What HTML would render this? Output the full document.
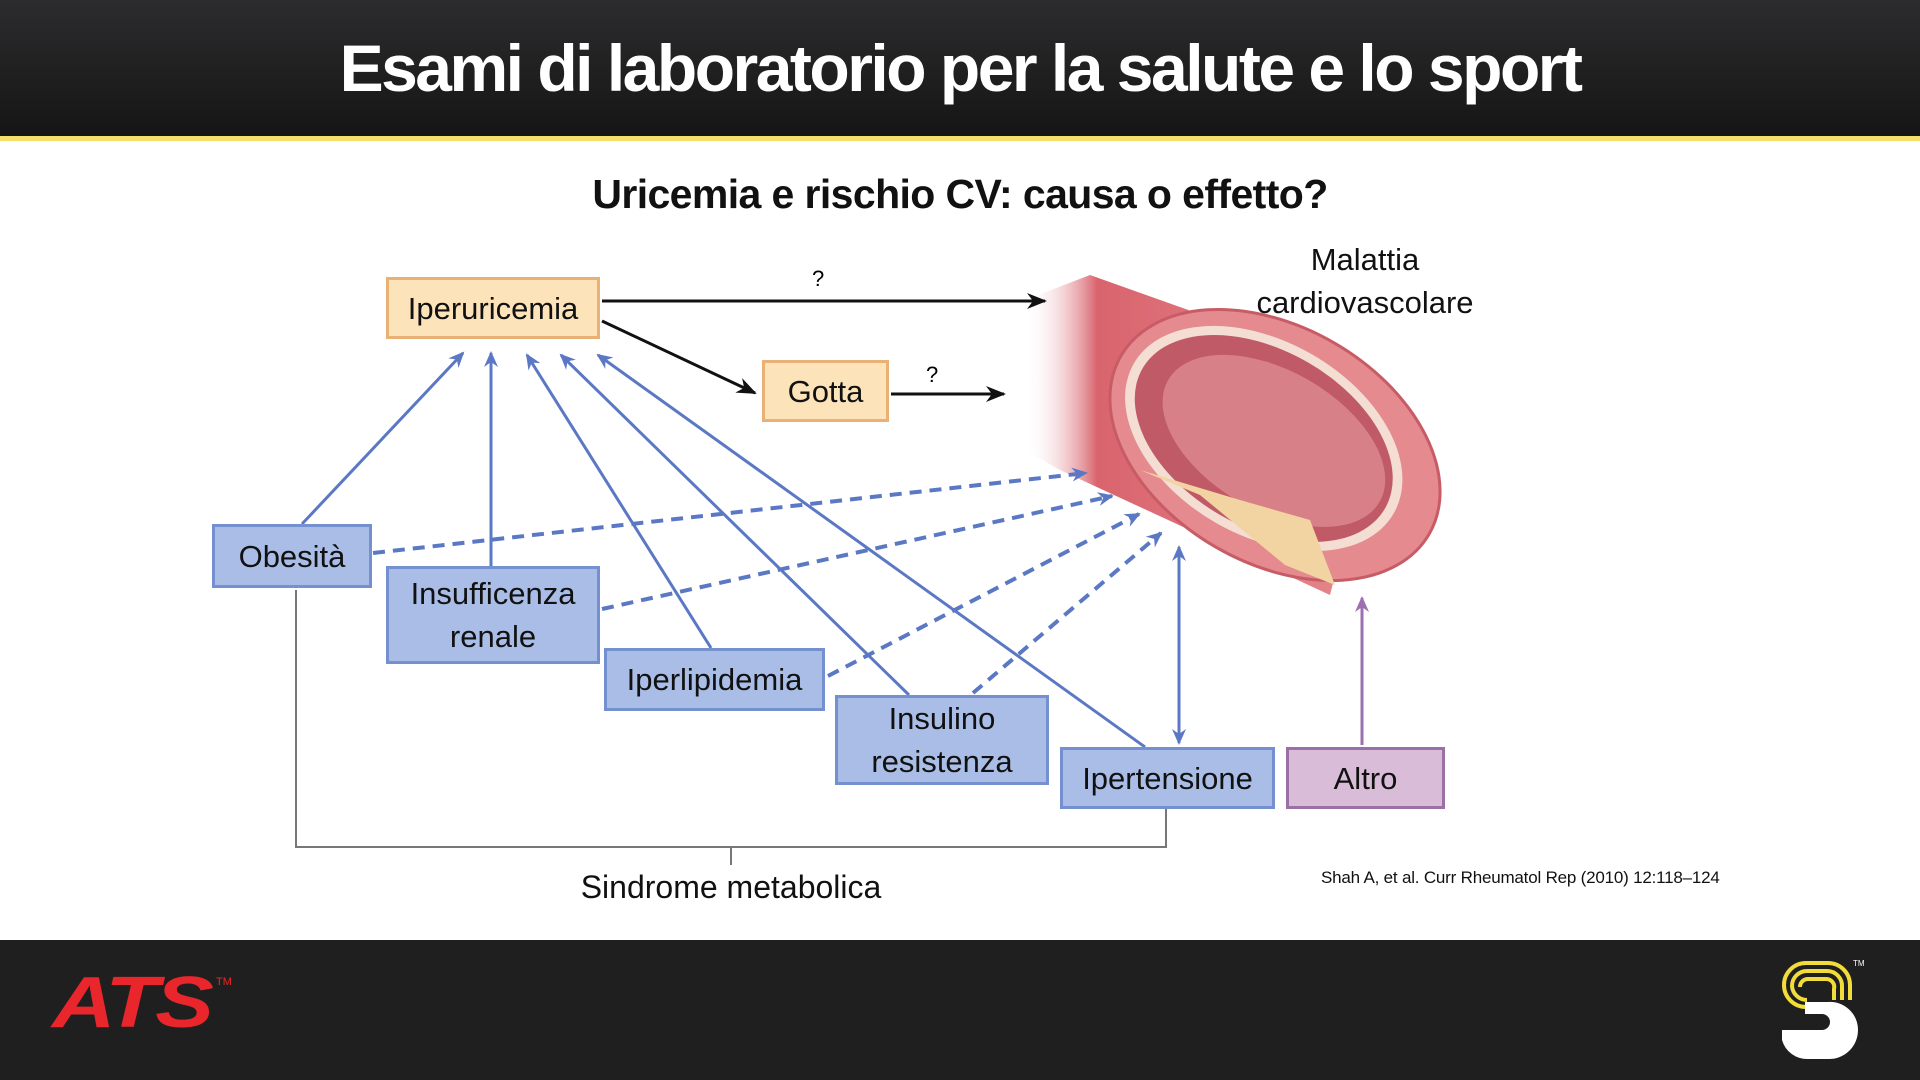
<!DOCTYPE html>
<html><head><meta charset="utf-8"><style>
body{margin:0;width:1920px;height:1080px;position:relative;background:#fff;font-family:"Liberation Sans",sans-serif;overflow:hidden}
.hdr{position:absolute;left:0;top:0;width:1920px;height:136px;background:linear-gradient(#2c2c2e,#151515)}
.yl{position:absolute;left:0;top:136px;width:1920px;height:5px;background:#f4df6a}
.ftr{position:absolute;left:0;top:940px;width:1920px;height:140px;background:#1f1f1f}
.t{position:absolute;white-space:nowrap}
.b{position:absolute;box-sizing:border-box;border:3px solid #7590cf;background:#a9bde6;display:flex;align-items:center;justify-content:center;text-align:center;font-size:31px;line-height:43px;color:#111}
.o{background:#fde3b9;border-color:#eab176}
</style></head><body>
<div class="hdr"></div><div class="yl"></div>
<div class="t" style="left:0;width:1920px;text-align:center;top:30px;font-size:66px;font-weight:bold;color:#fff;letter-spacing:-2.5px">Esami di laboratorio per la salute e lo sport</div>
<div class="t" style="left:0;width:1920px;text-align:center;top:171px;font-size:41px;font-weight:bold;color:#111;letter-spacing:-0.6px">Uricemia e rischio CV: causa o effetto?</div>

<svg style="position:absolute;left:0;top:0" width="1920" height="1080">
<defs>
<marker id="ak" markerWidth="20" markerHeight="16" refX="18" refY="8" orient="auto" markerUnits="userSpaceOnUse"><path d="M0,0 L20,8 L0,16 L6,8z" fill="#111"/></marker>
<marker id="ab" markerWidth="16" markerHeight="14" refX="14" refY="7" orient="auto" markerUnits="userSpaceOnUse"><path d="M0,0 L16,7 L0,14 L5,7z" fill="#5b78c4"/></marker>
<marker id="ab2" markerWidth="16" markerHeight="14" refX="2" refY="7" orient="auto" markerUnits="userSpaceOnUse"><path d="M16,0 L0,7 L16,14 L11,7z" fill="#5b78c4"/></marker>
<marker id="ap" markerWidth="16" markerHeight="14" refX="14" refY="7" orient="auto" markerUnits="userSpaceOnUse"><path d="M0,0 L16,7 L0,14 L5,7z" fill="#9b6fb0"/></marker>
<linearGradient id="tg" x1="0" y1="0" x2="1" y2="0"><stop offset="0" stop-color="#fff" stop-opacity="0"/><stop offset="0.2" stop-color="#d9646e"/><stop offset="1" stop-color="#e58b8f"/></linearGradient>
</defs>
<path d="M1025,300 L1090,275 L1385,380 L1330,595 L1060,470 L1025,450Z" fill="url(#tg)"/>
<g transform="rotate(30 1275 445)">
<ellipse cx="1275" cy="445" rx="178" ry="118" fill="#e58a8e" stroke="#c85c66" stroke-width="3"/>
<ellipse cx="1262" cy="445" rx="150" ry="97" fill="#f4ddd2"/>
<ellipse cx="1262" cy="445" rx="140" ry="88" fill="#c05a66"/>
<ellipse cx="1272" cy="442" rx="122" ry="70" fill="#d88088"/>
</g>
<path d="M1140,470 L1200,495 L1285,565 L1335,585 L1310,520 L1240,500 Z" fill="#f2d3a2"/>
<line x1="602" y1="301" x2="1045" y2="301" stroke="#111" stroke-width="3" marker-end="url(#ak)"/>
<line x1="602" y1="321" x2="755" y2="393" stroke="#111" stroke-width="3" marker-end="url(#ak)"/>
<line x1="891" y1="394" x2="1004" y2="394" stroke="#111" stroke-width="3" marker-end="url(#ak)"/>
<g stroke="#5b78c4" stroke-width="3" fill="none">
<line x1="302" y1="524" x2="463" y2="353" marker-end="url(#ab)"/>
<line x1="491" y1="566" x2="491" y2="353" marker-end="url(#ab)"/>
<line x1="711" y1="648" x2="527" y2="355" marker-end="url(#ab)"/>
<line x1="909" y1="695" x2="561" y2="355" marker-end="url(#ab)"/>
<line x1="1145" y1="747" x2="598" y2="355" marker-end="url(#ab)"/>
<line x1="1179" y1="547" x2="1179" y2="743" marker-start="url(#ab2)" marker-end="url(#ab)"/>
</g>
<g stroke="#5b78c4" stroke-width="4" fill="none" stroke-dasharray="12,8">
<line x1="373" y1="553" x2="1086" y2="473" marker-end="url(#ab)"/>
<line x1="602" y1="609" x2="1112" y2="496" marker-end="url(#ab)"/>
<line x1="828" y1="676" x2="1139" y2="514" marker-end="url(#ab)"/>
<line x1="973" y1="693" x2="1161" y2="533" marker-end="url(#ab)"/>
</g>
<line x1="1362" y1="745" x2="1362" y2="598" stroke="#9b6fb0" stroke-width="3" marker-end="url(#ap)"/>
<path d="M296,590 V847 H1166 V809 M731,847 V865" stroke="#777" stroke-width="2" fill="none"/>
</svg>

<div class="t" style="left:812px;top:266px;font-size:22px">?</div>
<div class="t" style="left:926px;top:362px;font-size:22px">?</div>
<div class="t" style="left:1190px;top:238px;width:350px;text-align:center;font-size:31px;line-height:43px;color:#111">Malattia<br>cardiovascolare</div>

<div class="b o" style="left:386px;top:277px;width:214px;height:62px">Iperuricemia</div>
<div class="b o" style="left:762px;top:360px;width:127px;height:62px">Gotta</div>
<div class="b" style="left:212px;top:524px;width:160px;height:64px">Obesità</div>
<div class="b" style="left:386px;top:566px;width:214px;height:98px">Insufficenza<br>renale</div>
<div class="b" style="left:604px;top:648px;width:221px;height:63px">Iperlipidemia</div>
<div class="b" style="left:835px;top:695px;width:214px;height:90px">Insulino<br>resistenza</div>
<div class="b" style="left:1060px;top:747px;width:215px;height:62px">Ipertensione</div>
<div class="b" style="left:1286px;top:747px;width:159px;height:62px;background:#d8bcd8;border-color:#9b70a6">Altro</div>

<div class="t" style="left:531px;width:400px;text-align:center;top:869px;font-size:32px;color:#111">Sindrome metabolica</div>
<div class="t" style="left:1321px;top:868px;font-size:17px;color:#111;letter-spacing:-0.2px">Shah A, et al. Curr Rheumatol Rep (2010) 12:118–124</div>

<div class="ftr"></div>
<div class="t" style="left:52px;top:962px;font-size:72px;font-weight:bold;font-style:italic;color:#e8262b;letter-spacing:-3px;transform:scaleX(1.22);transform-origin:0 0">ATS</div>
<div class="t" style="left:216px;top:976px;font-size:11px;color:#e8262b">TM</div>
<svg style="position:absolute;left:0;top:0" width="1920" height="1080">
<g fill="none" stroke="#f2dc3a" stroke-width="4">
<path d="M1850,1000 V985 A22,22 0 0 0 1828,963 H1806 A22,22 0 0 0 1784,985 A22,22 0 0 0 1806,1007"/>
<path d="M1842,1000 V987 A15,15 0 0 0 1827,971 H1807 A15,15 0 0 0 1792,986 A15,15 0 0 0 1807,1000"/>
<path d="M1834,1000 V989 A8,8 0 0 0 1826,979 H1808 A8,8 0 0 0 1800,987"/>
</g>
<path d="M1782,1030 H1822 A8,8 0 0 0 1822,1014 H1805 V1002 H1828 A28,28 0 0 1 1858,1030 A29,29 0 0 1 1828,1059 H1808 A26,26 0 0 1 1782,1040Z" fill="#fff"/>
<text x="1853" y="966" font-size="8" fill="#fff">TM</text>
</svg>
</body></html>
